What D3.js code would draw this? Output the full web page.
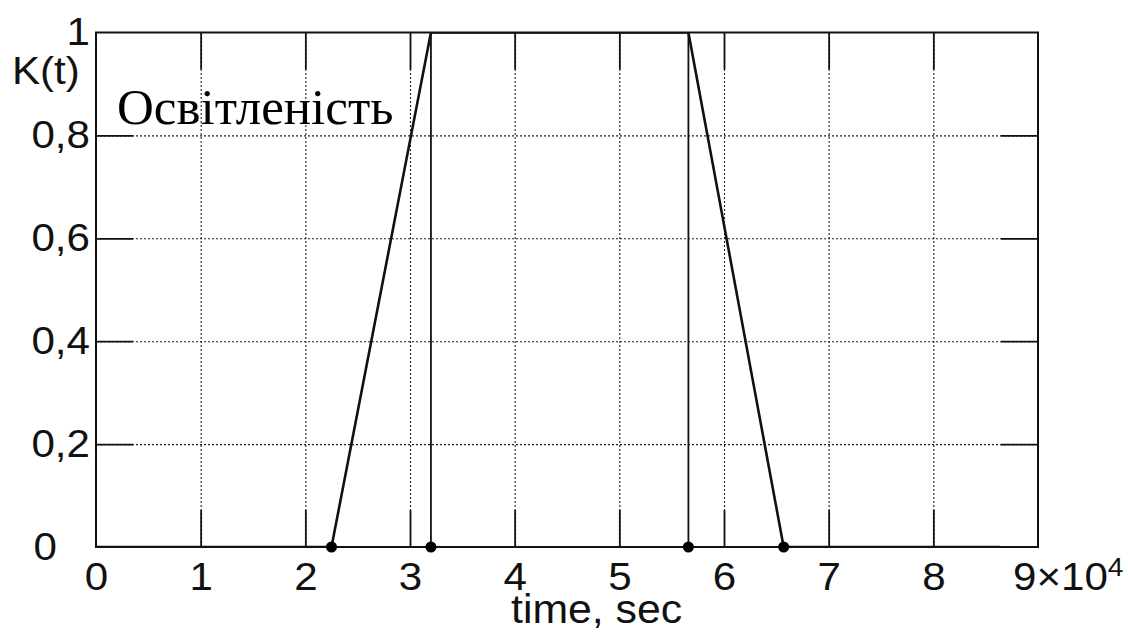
<!DOCTYPE html>
<html>
<head>
<meta charset="utf-8">
<script src="https://cdn.jsdelivr.net/npm/d3@7"></script>
<style>
  html, body { margin: 0; padding: 0; background: #fff; }
  svg { display: block; }
  .lbl { font-family: "Liberation Sans", Arial, sans-serif; fill: #111; }
</style>
</head>
<body>
<svg id="chart" width="1128" height="632"></svg>
<script>
// Illumination coefficient K(t) over one day (seconds)
const timeSec = [0, 22500, 32000, 56600, 65700, 86400];
const kValue  = [0, 0, 1, 1, 0, 0];
// Marked instants: sunrise start, full light, dusk start, darkness
const markTimes = [22500, 32000, 56600, 65700];
// Full-height markers
const markLines = [32000, 56600];
const xTicks = [0, 10000, 20000, 30000, 40000, 50000, 60000, 70000, 80000, 90000];
const xTickLabels = ["0", "1", "2", "3", "4", "5", "6", "7", "8", "9"];
const yTicks = [0, 0.2, 0.4, 0.6, 0.8, 1];
const yTickLabels = ["0", "0,2", "0,4", "0,6", "0,8", "1"];

const W = 1128, H = 632;
const m = { left: 96, top: 32.5, right: 90, bottom: 85 };
const iw = W - m.left - m.right, ih = H - m.top - m.bottom;
const tickLen = 37;
const SX = 1.08; // horizontal stretch of the sans labels

const svg = d3.select("#chart");
const g = svg.append("g").attr("transform", `translate(${m.left},${m.top})`);

svg.append("defs").append("clipPath").attr("id", "plotClip")
  .append("rect").attr("width", iw).attr("height", ih);

const x = d3.scaleLinear().domain([0, 90000]).range([0, iw]);
const y = d3.scaleLinear().domain([0, 1]).range([ih, 0]);

// dotted grid
const gridX = g.append("g").attr("transform", `translate(0,${ih})`)
  .call(d3.axisBottom(x).tickValues(xTicks.slice(1, -1)).tickSize(-ih).tickFormat(""));
const gridY = g.append("g")
  .call(d3.axisLeft(y).tickValues(yTicks.slice(1, -1)).tickSize(-iw).tickFormat(""));
[gridX, gridY].forEach(s => {
  s.select(".domain").remove();
  s.selectAll("line").attr("stroke", "#222").attr("stroke-width", 1.1).attr("stroke-dasharray", "2,2");
});

// inward solid ticks on all four sides
function inTicks(axis, tf) {
  const s = g.append("g").attr("transform", tf).call(axis);
  s.select(".domain").remove();
  s.selectAll("text").remove();
  s.selectAll("line").attr("stroke", "#111").attr("stroke-width", 1.8);
  return s;
}
inTicks(d3.axisBottom(x).tickValues(xTicks.slice(1, -1)).tickSize(-tickLen), `translate(0,${ih})`);
inTicks(d3.axisTop(x).tickValues(xTicks.slice(1, -1)).tickSize(-tickLen), `translate(0,0)`);
inTicks(d3.axisLeft(y).tickValues(yTicks.slice(1, -1)).tickSize(-tickLen), `translate(0,0)`);
inTicks(d3.axisRight(y).tickValues(yTicks.slice(1, -1)).tickSize(-tickLen), `translate(${iw},0)`);

// vertical markers
g.selectAll(".mline").data(markLines).join("line")
  .attr("x1", d => x(d)).attr("x2", d => x(d))
  .attr("y1", y(0)).attr("y2", y(1))
  .attr("stroke", "#111").attr("stroke-width", 1.8);

// K(t) curve, clipped to the axes box
const pts = timeSec.map((t, i) => [t, kValue[i]]);
g.append("path").datum(pts)
  .attr("clip-path", "url(#plotClip)")
  .attr("d", d3.line().x(d => x(d[0])).y(d => y(d[1])))
  .attr("fill", "none").attr("stroke", "#111").attr("stroke-width", 2.6)
  .attr("stroke-linejoin", "miter");

// frame
g.append("rect").attr("x", 0).attr("y", 0).attr("width", iw).attr("height", ih)
  .attr("fill", "none").attr("stroke", "#111").attr("stroke-width", 2);

// dots on time axis
g.selectAll(".dot").data(markTimes).join("circle")
  .attr("cx", d => x(d)).attr("cy", y(0)).attr("r", 5.5).attr("fill", "#000");

// x tick labels
const xAx = g.append("g").attr("transform", `translate(0,${ih})`)
  .call(d3.axisBottom(x).tickValues(xTicks.slice(0, -1)).tickSize(0)
    .tickFormat((d, i) => xTickLabels[i]));
xAx.select(".domain").remove();
xAx.selectAll("text").attr("class", "lbl").attr("font-size", 39).attr("fill", "#111")
  .attr("x", 0).attr("y", 0).attr("dy", 0)
  .attr("transform", `translate(0,43) scale(${SX},1)`);
// last label with exponent
const last = g.append("text").attr("class", "lbl").attr("font-size", 39)
  .attr("transform", `translate(${x(90000) - 25},${ih + 43}) scale(${SX},1)`);
last.append("tspan").text(xTickLabels[xTickLabels.length - 1] + "×10");
last.append("tspan").attr("font-size", 26).attr("dy", -14).text("4");

// y tick labels
const yAx = g.append("g")
  .call(d3.axisLeft(y).tickValues(yTicks).tickSize(0)
    .tickFormat((d, i) => yTickLabels[i]));
yAx.select(".domain").remove();
yAx.selectAll("text").attr("class", "lbl").attr("font-size", 39).attr("fill", "#111")
  .attr("x", 0)
  .attr("transform", d => `translate(${d === 0 ? -39 : -6},0) scale(${SX},1)`);

// axis titles
svg.append("text").attr("class", "lbl").attr("font-size", 39)
  .attr("transform", `translate(12,84) scale(${SX},1)`).text("K(t)");
svg.append("text").attr("class", "lbl").attr("font-size", 40)
  .attr("transform", `translate(511,623) scale(1.07,1)`).text("time, sec");

// plot annotation
g.append("text")
  .attr("transform", `translate(${117 - m.left},${124 - m.top}) scale(1.02,1)`)
  .attr("font-family", "'Liberation Serif', 'Times New Roman', serif")
  .attr("font-size", 50).attr("fill", "#000").text("Освітленість");
</script>
</body>
</html>
